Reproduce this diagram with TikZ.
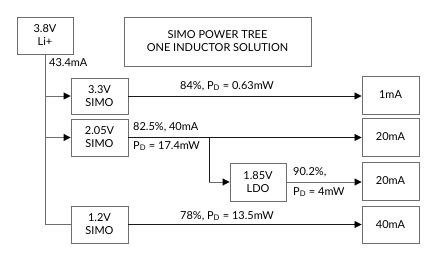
\documentclass[tikz,border=0pt]{standalone}
\usepackage{fontspec}
\setmainfont{Lato}
\usetikzlibrary{arrows.meta,positioning,calc}
\definecolor{boxline}{HTML}{6E6E6E}
\definecolor{wire}{HTML}{1A1A1A}

\begin{document}
\begin{tikzpicture}[x=1pt,y=-1pt,font=\fontsize{11}{13}\selectfont,
  blk/.style={draw=boxline,line width=0.9pt,minimum width=57pt,minimum height=37pt,align=center,inner sep=1pt},
  trunk/.style={boxline,line width=0.9pt},
  tip/.style={-{Triangle[length=7pt,width=7pt,color=black]}},
  feed/.style={wire,line width=0.8pt,tip},
  lbl/.style={inner sep=0pt,anchor=west}]
  \useasboundingbox (0,0) rectangle (435,253);

  % Source and title
  \node[blk,minimum width=56pt] (li) at (45,35.5) {3.8V\\Li+};
  \node[blk,minimum width=187pt,minimum height=49pt,align=center] (title) at (217.5,41.5) {SIMO POWER TREE\\ONE INDUCTOR SOLUTION};
  \node[lbl] (iin) at (49,63) {43.4mA};

  % Regulators
  \node[blk,minimum height=36pt] (simoA) at (99.5,96) {3.3V\\SIMO};
  \node[blk] (simoB) at (99.5,137.5) {2.05V\\SIMO};
  \node[blk] (simoC) at (99.5,224.5) {1.2V\\SIMO};
  \node[blk,minimum width=56pt,minimum height=38pt] (ldo) at (258,182) {1.85V\\LDO};

  % Loads
  \node[blk,minimum height=38pt] (loadA) at (390.5,95) {1mA};
  \node[blk,minimum height=38pt] (loadB) at (390.5,137) {20mA};
  \node[blk,minimum height=38pt] (loadC) at (390.5,181) {20mA};
  \node[blk] (loadD) at (390.5,224.5) {40mA};

  % Distribution from the battery
  \draw[trunk] (li.south) -- (li.south |- simoC.west) -- (simoC.west);
  \draw[trunk,tip] (li.south |- simoA.west) -- (simoA.west);
  \draw[trunk,tip] (li.south |- simoB.west) -- (simoB.west);

  % Outputs
  \draw[feed] (simoA.east) -- (simoA.east -| loadA.west);
  \draw[feed] (simoB.east) -- (simoB.east -| loadB.west);
  \coordinate (tap) at (209,137.5);
  \draw[wire,line width=0.8pt] (tap) -- (tap |- ldo.west);
  \draw[trunk,tip] (tap |- ldo.west) -- (ldo.west);
  \draw[trunk,tip] (ldo.east) -- (ldo.east -| loadC.west);
  \draw[feed] (simoC.east) -- (simoC.east -| loadD.west);

  % Efficiency labels
  \node[lbl] (effA) at (180,86) {84\%, P\textsubscript{D} = 0.63mW};
  \node[lbl] (effB) at (133,127) {82.5\%, 40mA};
  \node[lbl] (pdB) at (133,146) {P\textsubscript{D} = 17.4mW};
  \node[lbl] (effL) at (293,172) {90.2\%,};
  \node[lbl] (pdL) at (293,192) {P\textsubscript{D} = 4mW};
  \node[lbl] (effC) at (180,216) {78\%, P\textsubscript{D} = 13.5mW};
\end{tikzpicture}
\end{document}
